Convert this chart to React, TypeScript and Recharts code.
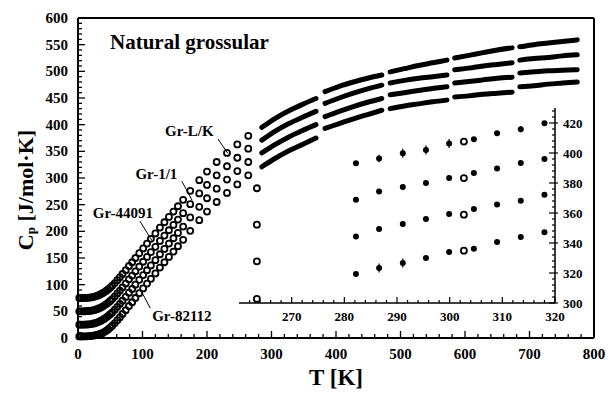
import React from 'react';
import {
  ComposedChart,
  ScatterChart,
  Scatter,
  Line,
  XAxis,
  YAxis,
  ReferenceLine,
  ReferenceDot,
  Label,
  ErrorBar,
} from 'recharts';

const FONT = "'Liberation Serif', 'Times New Roman', Times, serif";

// ---------- Main chart: low-temperature data (open circles) ----------
const lowT = [2, 5, 8, 11, 14, 17, 20, 23, 26, 29, 32, 35, 38, 41, 44, 47, 50, 53, 57, 61, 65, 69, 74, 79, 84, 89, 95, 101, 107, 113, 120, 127, 134, 141, 148, 155, 163, 174, 188, 200, 215, 231, 247, 264];
const lowLK = [75, 75, 75.1, 75.2, 75.3, 75.6, 76.1, 76.8, 77.7, 78.9, 80.3, 82, 84, 86.2, 88.7, 91.5, 94.5, 98, 103, 108.5, 114, 120, 127, 135, 142, 150, 159, 168, 177, 186, 196, 207, 217, 227, 237, 247, 259, 276, 296, 312, 330, 347, 363, 379];
const low11 = [50, 50, 50.1, 50.2, 50.3, 50.6, 51.1, 51.8, 52.7, 53.9, 55.3, 57, 59, 61.2, 63.7, 66.5, 69.5, 73, 78, 83.5, 89, 95, 102, 110, 117, 125, 134, 143, 152, 161, 171, 182, 192, 202, 212, 222, 234, 251, 271, 287, 305, 322, 338, 355];
const low44091 = [25, 25, 25.1, 25.2, 25.3, 25.6, 26.1, 26.8, 27.7, 28.9, 30.3, 32, 34, 36.2, 38.7, 41.5, 44.5, 48, 53, 58.5, 64, 70, 77, 85, 92, 100, 109, 118, 127, 136, 146, 157, 167, 177, 187, 197, 209, 226, 246, 262, 280, 297, 313, 330];
const low82112 = [3, 3, 3, 3.1, 3.2, 3.4, 3.8, 4.3, 5, 5.8, 6.8, 8, 9.6, 11.5, 13.7, 16.5, 19.5, 23, 28, 33.5, 39, 45, 52, 60, 67, 75, 84, 93, 102, 111, 121, 132, 142, 152, 162, 172, 184, 201, 221, 237, 255, 272, 288, 305];

// ---------- Main chart: high-temperature runs (dense filled points) ----------
const hiSegT = [
  [285, 306, 327, 348, 369],
  [383, 405, 427, 449, 471],
  [484, 506, 528, 550, 572],
  [584, 606, 628, 650, 673],
  [685, 707, 729, 751, 774],
];
const hiLK = [
  [395, 412, 426, 438, 449],
  [462, 472, 480, 487, 493],
  [499, 505, 511, 516, 521],
  [525, 530, 535, 540, 544],
  [546, 550, 553, 556, 559],
];
const hi11 = [
  [371, 388, 402, 414, 425],
  [440, 450, 459, 467, 474],
  [478, 483, 487, 490, 493],
  [503, 506, 510, 513, 516],
  [521, 524, 526, 529, 531],
];
const hi44091 = [
  [347, 363, 377, 389, 400],
  [415, 425, 434, 442, 449],
  [456, 460, 464, 468, 471],
  [478, 481, 484, 487, 489],
  [497, 499, 501, 502, 503],
];
const hi82112 = [
  [321, 337, 351, 363, 375],
  [393, 402, 411, 419, 427],
  [430, 435, 439, 443, 446],
  [452, 454, 457, 459, 461],
  [471, 473, 476, 478, 480],
];

// ---------- Inset (260-320 K) ----------
const insetT = [282.2, 286.6, 291.1, 295.5, 299.9, 304.6, 309.0, 313.5, 318.0];
const insetLK = [393.1, 396.4, 399.8, 402, 406.4, 409.1, 413.1, 415.8, 419.8];
const inset11 = [368.9, 374.4, 377.3, 380, 383.3, 386.7, 389.6, 393.3, 396];
const inset44091 = [344.4, 349.3, 352.7, 356, 359.3, 362.7, 365.6, 368.2, 372.2];
const inset82112 = [319.3, 323.3, 326.7, 330, 334, 336.2, 340.7, 344, 347.1];
const insetErrLK = [0, 2.5, 3, 3, 3, 0, 0, 2, 0];
const insetErr82112 = [0, 3, 3, 0, 0, 0, 0, 0, 0];
const insetOpenT = [263.4, 302.7];
const insetOpenLK = [376.5, 407.6];
const insetOpen11 = [352.2, 383.3];
const insetOpen44091 = [327.8, 358.9];
const insetOpen82112 = [302.7, 334.9];

// ---------- Labels ----------
const title = 'Natural grossular';
const titleAt = { T: 49.6, Cp: 542 };
const sampleNames = ['Gr-L/K', 'Gr-1/1', 'Gr-44091', 'Gr-82112'];
const sampleLabelT = [135, 89, 23, 115];
const sampleLabelCp = [378, 299, 225, 32];
const pointerFromT = [217, 161, 96, 112];
const pointerFromCp = [373, 294, 219, 56];
const pointerToT = [232.5, 177, 115, 98];
const pointerToCp = [346, 258, 182, 88];

const mainXTicks = Array.from({ length: 41 }, (_, i) => i * 20);
const mainYTicks = Array.from({ length: 61 }, (_, i) => i * 10);
const insetXTicks = Array.from({ length: 30 }, (_, i) => 262 + i * 2);
const insetYTicks = Array.from({ length: 33 }, (_, i) => 300 + i * 4);

type Row = { T: number; v: number | null; e?: number };
const toPoints = (ts: number[], vs: number[], es?: number[]): Row[] =>
  ts.map((T, i) => ({ T, v: vs[i], e: es ? es[i] : 0 }));
const toRuns = (segT: number[][], segV: number[][]): Row[] => {
  const rows: Row[] = [];
  segT.forEach((ts, s) => {
    if (s > 0) {
      const prev = segT[s - 1];
      rows.push({ T: (prev[prev.length - 1] + ts[0]) / 2, v: null });
    }
    ts.forEach((T, i) => rows.push({ T, v: segV[s][i] }));
  });
  return rows;
};

const lowSeries = [lowLK, low11, low44091, low82112].map((vs) => toPoints(lowT, vs));
const hiSeries = [hiLK, hi11, hi44091, hi82112].map((vs) => toRuns(hiSegT, vs));
const insetFilled = [
  toPoints(insetT, insetLK, insetErrLK),
  toPoints(insetT, inset11),
  toPoints(insetT, inset44091),
  toPoints(insetT, inset82112, insetErr82112),
];
const insetOpen = [insetOpenLK, insetOpen11, insetOpen44091, insetOpen82112].map((vs) => toPoints(insetOpenT, vs));

const OpenCircle = (p: any) => (
  <circle cx={p.cx} cy={p.cy} r={3} fill="none" stroke="#000" strokeWidth={1.8} />
);
const FilledDot = (p: any) => <circle cx={p.cx} cy={p.cy} r={3} fill="#000" />;

const tickText = { fontFamily: FONT, fontWeight: 'bold' as const, fill: '#000' };

const BottomTick = (p: any) => {
  const v = p.payload.value;
  const major = v % 100 === 0;
  return (
    <g>
      <line x1={p.x} x2={p.x} y1={p.y} y2={p.y - (major ? 7 : 4)} stroke="#000" strokeWidth={1.3} />
      {major ? (
        <text x={p.x} y={p.y + 21} textAnchor="middle" fontSize={15} {...tickText}>
          {v}
        </text>
      ) : null}
    </g>
  );
};
const TopTick = (p: any) => {
  const major = p.payload.value % 100 === 0;
  return <line x1={p.x} x2={p.x} y1={p.y} y2={p.y + (major ? 7 : 4)} stroke="#000" strokeWidth={1.3} />;
};
const LeftTick = (p: any) => {
  const v = p.payload.value;
  const major = v % 50 === 0;
  return (
    <g>
      <line x1={p.x} x2={p.x + (major ? 7 : 4)} y1={p.y} y2={p.y} stroke="#000" strokeWidth={1.3} />
      {major ? (
        <text x={p.x - 10} y={p.y + 5} textAnchor="end" fontSize={15} {...tickText}>
          {v}
        </text>
      ) : null}
    </g>
  );
};
const RightTick = (p: any) => {
  const major = p.payload.value % 50 === 0;
  return <line x1={p.x} x2={p.x - (major ? 7 : 4)} y1={p.y} y2={p.y} stroke="#000" strokeWidth={1.3} />;
};
const InsetXTick = (p: any) => {
  const v = p.payload.value;
  const major = v % 10 === 0;
  return (
    <g>
      <line x1={p.x} x2={p.x} y1={p.y} y2={p.y - (major ? 6 : 3)} stroke="#000" strokeWidth={1.2} />
      {major ? (
        <text x={p.x} y={p.y + 18} textAnchor="middle" fontSize={13} {...tickText}>
          {v}
        </text>
      ) : null}
    </g>
  );
};
const InsetYTick = (p: any) => {
  const v = p.payload.value;
  const major = v % 20 === 0;
  return (
    <g>
      <line x1={p.x - (major ? 6 : 3)} x2={p.x + (major ? 3 : 0)} y1={p.y} y2={p.y} stroke="#000" strokeWidth={1.2} />
      {major ? (
        <text x={p.x + 8} y={p.y + 4.5} textAnchor="start" fontSize={13} {...tickText}>
          {v}
        </text>
      ) : null}
    </g>
  );
};

const textShape = (text: string, size: number, anchor: 'start' | 'middle' = 'start') => (p: any) => (
  <text x={p.cx} y={p.cy} textAnchor={anchor} fontFamily={FONT} fontWeight="bold" fontSize={size} fill="#000">
    {text}
  </text>
);

const XTitle = (p: any) => {
  const vb = p.viewBox || { x: 78, y: 338, width: 516, height: 1 };
  return (
    <text x={vb.x + vb.width / 2} y={vb.y + 47} textAnchor="middle" fontFamily={FONT} fontWeight="bold" fontSize={23} fill="#000">
      T [K]
    </text>
  );
};
const YTitle = (p: any) => {
  const vb = p.viewBox || { x: 77, y: 18, width: 1, height: 320 };
  const cx = vb.x - 52;
  const cy = vb.y + vb.height / 2 + 12;
  return (
    <text
      x={cx}
      y={cy}
      transform={`rotate(-90, ${cx}, ${cy})`}
      textAnchor="middle"
      dominantBaseline="central"
      fontFamily={FONT}
      fontWeight="bold"
      fontSize={22}
      fill="#000"
    >
      C<tspan dy={5} fontSize={13}>p</tspan>
      <tspan dy={-5}> [J/mol·K]</tspan>
    </text>
  );
};

export default function App() {
  return (
    <div style={{ position: 'absolute', left: 0, top: 0, width: 610, height: 393, background: '#fff' }}>
      <ComposedChart width={610} height={393} margin={{ top: 17, right: 15, bottom: 54, left: 77 }}>
        <XAxis
          type="number"
          dataKey="T"
          domain={[0, 800]}
          ticks={mainXTicks}
          interval={0}
          height={1}
          tickSize={0}
          tickMargin={0}
          tickLine={false}
          tick={BottomTick}
          axisLine={{ stroke: '#000', strokeWidth: 2 }}
        >
          <Label content={XTitle} />
        </XAxis>
        <XAxis
          xAxisId="top"
          orientation="top"
          type="number"
          domain={[0, 800]}
          ticks={mainXTicks}
          interval={0}
          height={1}
          tickSize={0}
          tickMargin={0}
          tickLine={false}
          tick={TopTick}
          axisLine={{ stroke: '#000', strokeWidth: 2 }}
        />
        <YAxis
          type="number"
          dataKey="v"
          domain={[0, 600]}
          ticks={mainYTicks}
          interval={0}
          width={1}
          tickSize={0}
          tickMargin={0}
          tickLine={false}
          tick={LeftTick}
          axisLine={{ stroke: '#000', strokeWidth: 2 }}
        >
          <Label content={YTitle} />
        </YAxis>
        <YAxis
          yAxisId="right"
          orientation="right"
          type="number"
          domain={[0, 600]}
          ticks={mainYTicks}
          interval={0}
          width={1}
          tickSize={0}
          tickMargin={0}
          tickLine={false}
          tick={RightTick}
          axisLine={{ stroke: '#000', strokeWidth: 2 }}
        />
        {lowSeries.map((d, i) => (
          <Scatter key={'low' + i} data={d} dataKey="v" shape={OpenCircle} isAnimationActive={false} />
        ))}
        {hiSeries.map((d, i) => (
          <Line
            key={'hi' + i}
            data={d}
            dataKey="v"
            type="monotone"
            stroke="#000"
            strokeWidth={5}
            strokeLinecap="round"
            dot={false}
            activeDot={false}
            connectNulls={false}
            isAnimationActive={false}
          />
        ))}
        <ReferenceDot x={titleAt.T} y={titleAt.Cp} r={0} ifOverflow="visible" shape={textShape(title, 21)} />
        {sampleNames.map((n, i) => (
          <ReferenceDot key={'lab' + i} x={sampleLabelT[i]} y={sampleLabelCp[i]} r={0} ifOverflow="visible" shape={textShape(n, 15)} />
        ))}
        {sampleNames.map((n, i) => (
          <ReferenceLine
            key={'ptr' + i}
            segment={[
              { x: pointerFromT[i], y: pointerFromCp[i] },
              { x: pointerToT[i], y: pointerToCp[i] },
            ]}
            stroke="#000"
            strokeWidth={1}
            ifOverflow="visible"
          />
        ))}
      </ComposedChart>
      <div style={{ position: 'absolute', left: 230, top: 98 }}>
        <ScatterChart width={370} height={235} margin={{ top: 10, right: 44, bottom: 29, left: 9 }}>
          <XAxis
            type="number"
            dataKey="T"
            domain={[260, 320]}
            ticks={insetXTicks}
            interval={0}
            height={1}
            tickSize={0}
            tickMargin={0}
            tickLine={false}
            tick={InsetXTick}
            axisLine={{ stroke: '#000', strokeWidth: 1.5 }}
          />
          <YAxis
            type="number"
            dataKey="v"
            orientation="right"
            domain={[300, 430]}
            ticks={insetYTicks}
            interval={0}
            width={1}
            tickSize={0}
            tickMargin={0}
            tickLine={false}
            tick={InsetYTick}
            axisLine={{ stroke: '#000', strokeWidth: 1.5 }}
          />
          {insetFilled.map((d, i) => (
            <Scatter key={'if' + i} data={d} shape={FilledDot} isAnimationActive={false}>
              <ErrorBar dataKey="e" direction="y" width={0} stroke="#000" strokeWidth={1.2} />
            </Scatter>
          ))}
          {insetOpen.map((d, i) => (
            <Scatter key={'io' + i} data={d} shape={OpenCircle} isAnimationActive={false} />
          ))}
        </ScatterChart>
      </div>
    </div>
  );
}
